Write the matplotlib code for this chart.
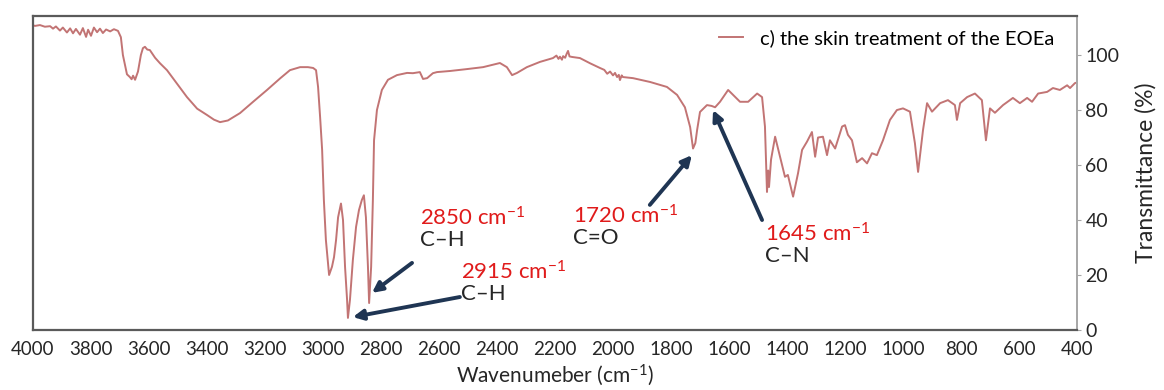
import matplotlib
matplotlib.use('Agg')
import matplotlib.pyplot as plt

plt.rcParams['font.family'] = ['Lato', 'DejaVu Sans']
plt.rcParams['mathtext.fontset'] = 'custom'
plt.rcParams['mathtext.rm'] = 'Lato'
plt.rcParams['mathtext.it'] = 'Lato'
plt.rcParams['mathtext.default'] = 'regular'

# espectro FTIR (numero de onda en cm-1, transmitancia en %)
numero_onda = [
    4000, 3993, 3976, 3959, 3941, 3931, 3921, 3907, 3897, 3883, 3872, 3862, 3852, 3838,
    3828, 3817, 3810, 3800, 3790, 3779, 3769, 3759, 3748, 3734, 3721, 3707, 3697,
    3690, 3676, 3666, 3660, 3655, 3648, 3638, 3628, 3621, 3614, 3606, 3597, 3579, 3562,
    3538, 3503, 3469, 3434, 3400, 3376, 3355, 3328, 3286, 3241, 3193, 3148, 3114, 3079,
    3052, 3034, 3024, 3017, 3010, 3003, 2997, 2990, 2983, 2979, 2969, 2962, 2955, 2948,
    2938, 2931, 2924, 2917, 2914, 2907, 2897, 2886, 2876, 2866, 2859, 2852, 2845, 2841,
    2834, 2828, 2824, 2814, 2797, 2776, 2745, 2710, 2690, 2666, 2655, 2641, 2621, 2607,
    2562, 2503, 2448, 2390, 2366, 2348, 2331, 2297, 2252, 2207,
    2195, 2188, 2183, 2176, 2172, 2165, 2160, 2155, 2150, 2141, 2114, 2079, 2045,
    2030, 2020, 2010, 2000, 1993, 1986, 1980, 1976, 1970, 1966, 1931, 1872, 1814, 1779,
    1752, 1734, 1724, 1716, 1710, 1700, 1676, 1660, 1648, 1631, 1603, 1586, 1562, 1534,
    1503, 1486, 1476, 1469, 1465, 1462, 1455, 1441, 1424, 1407, 1397, 1379, 1362, 1348,
    1331, 1314, 1303, 1293, 1276, 1262, 1252, 1234, 1210, 1200, 1190, 1176, 1159, 1141,
    1124, 1107, 1090, 1069, 1045, 1021, 1000, 976, 959, 948, 931, 917, 900, 872, 845,
    821, 814, 803, 779, 752, 728, 714, 700, 683, 655, 621, 597, 572, 555, 534, 503, 483,
    459, 434, 424, 407, 400,
]
transmitancia = [
    110.8, 110.6, 110.9, 110.3, 110.5, 109.6, 110.4, 108.9, 110.0, 108.2, 109.7, 107.9, 109.5, 107.4,
    109.8, 106.6, 109.2, 107.0, 110.0, 108.3, 109.6, 108.0, 109.3, 108.6, 109.4, 108.8, 106.5,
    100.0, 93.0, 92.0, 91.2, 92.5, 91.0, 94.0, 100.0, 102.5, 103.0, 102.0, 101.8, 99.0, 97.0,
    94.5, 89.5, 84.7, 80.5, 78.2, 76.5, 75.6, 76.2, 78.9, 83.0, 87.3, 91.5, 94.5, 95.6,
    95.6, 95.3, 94.5, 88.4, 77.5, 65.5, 47.3, 32.7, 24.4, 20.0, 23.0, 26.5, 32.7, 41.0,
    46.0, 40.0, 23.0, 11.0, 4.4, 11.0, 25.5, 37.5, 43.6, 47.3, 49.0, 41.0, 23.0, 9.8,
    23.0, 47.3, 69.0, 80.0, 87.3, 91.0, 92.7, 93.5, 93.4, 93.8, 91.3, 91.6, 93.4, 93.8,
    94.2, 94.9, 95.6, 97.1, 95.6, 92.7, 93.5, 95.6, 97.5, 98.9,
    99.8, 98.6, 99.4, 98.3, 99.6, 99.0, 100.4, 101.5, 99.5, 99.3, 98.9, 97.0, 95.3,
    94.6, 93.2, 94.0, 92.6, 93.5, 92.0, 92.8, 90.9, 92.6, 92.0, 91.6, 90.2, 88.4, 85.5,
    81.0, 73.8, 66.0, 68.0, 72.7, 79.3, 81.8, 81.5, 81.0, 83.0, 87.3, 85.5, 83.0, 83.0,
    86.0, 84.7, 74.0, 50.2, 58.0, 52.0, 62.0, 70.3, 63.0, 55.7, 56.4, 48.5, 57.0, 65.5,
    68.5, 72.0, 63.0, 70.0, 70.3, 63.6, 69.0, 66.0, 74.0, 74.5, 71.0, 69.0, 61.0, 62.5,
    60.6, 64.3, 63.6, 69.0, 76.4, 80.0, 80.6, 79.4, 68.0, 57.5, 72.7, 82.5, 79.4, 82.5, 83.6,
    81.8, 76.4, 82.5, 84.7, 86.0, 83.6, 69.0, 80.6, 79.0, 81.8, 84.4, 82.5, 84.4, 83.0, 86.0, 86.6, 88.0,
    87.3, 89.0, 88.0, 89.8, 90.0,
]

# anotaciones: texto rojo, grupo funcional, posicion del texto, punta y cola de la flecha
etiquetas = ['2850 cm$^{-1}$', '2915 cm$^{-1}$', '1720 cm$^{-1}$', '1645 cm$^{-1}$']
grupos = ['C\u2013H', 'C\u2013H', 'C=O', 'C\u2013N']
texto_x = [2666, 2524, 2138, 1476]
texto_y = [40.7, 21.1, 41.5, 34.9]
punta = [(2831, 13.5), (2897, 4.7), (1728, 63.6), (1655, 80.0)]
cola = [(2693, 24.4), (2528, 12.0), (1873, 45.5), (1486, 40.0)]

fig = plt.figure(figsize=(11.64, 3.9), dpi=100)
ax = fig.add_axes([33 / 1164, 1 - 330 / 390, 1044 / 1164, 314 / 390])

ax.plot(numero_onda, transmitancia, color='#c27474', lw=1.4,
        label='c) the skin treatment of the EOEa')

ax.set_xlim(4000, 400)
ax.set_ylim(0, 114.2)
ax.set_xticks(range(4000, 399, -200))
ax.set_yticks(range(0, 101, 20))
ax.yaxis.tick_right()
ax.yaxis.set_label_position('right')
ax.tick_params(axis='x', length=0, pad=8, labelsize=13.5, labelcolor='#262626')
ax.tick_params(axis='y', length=3, color='#a6a6a6', pad=3, labelsize=14, labelcolor='#262626')

for lado in ['top', 'left', 'bottom']:
    ax.spines[lado].set_color('#5a5a5a')
    ax.spines[lado].set_linewidth(1.6)
ax.spines['right'].set_color('#a6a6a6')
ax.spines['right'].set_linewidth(1.4)

ax.set_xlabel('Wavenumeber (cm$^{-1}$)', fontsize=15, color='#262626', labelpad=3)
ax.set_ylabel('Transmittance (%)', fontsize=16.5, color='#262626', labelpad=11)

for i in range(len(etiquetas)):
    ax.annotate('', xy=punta[i], xytext=cola[i],
                arrowprops=dict(arrowstyle='-|>', color='#1f3553', lw=2.8,
                                mutation_scale=15, shrinkA=0, shrinkB=0))
    ax.text(texto_x[i], texto_y[i], etiquetas[i], color='#e01b1b', fontsize=16,
            ha='left', va='center')
    ax.text(texto_x[i], texto_y[i] - 8.0, grupos[i], color='#262626', fontsize=16,
            ha='left', va='center')

ax.legend(loc='upper left', bbox_to_anchor=(0.64, 1.015), frameon=False, fontsize=14.5,
          handlelength=1.2, handletextpad=0.8)

fig.savefig('out.png', dpi=100)
